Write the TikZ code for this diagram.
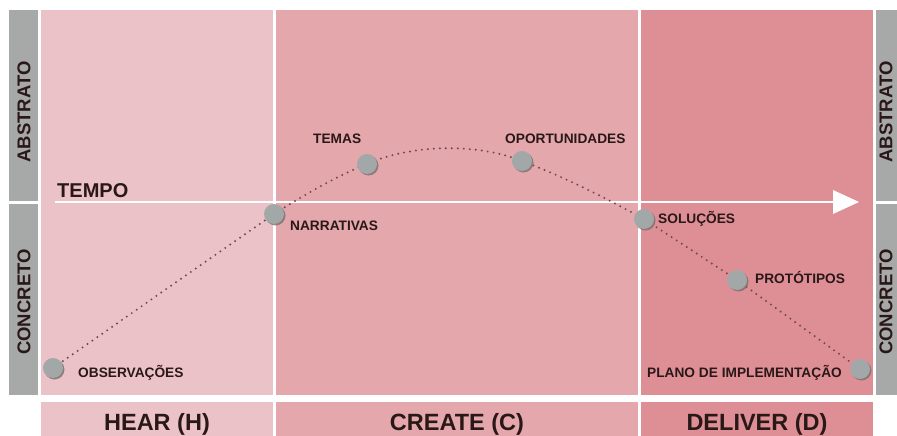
\documentclass[tikz,border=0pt]{standalone}
\usepackage{fontspec}
\setmainfont{Liberation Sans}
\usetikzlibrary{shadows}
\definecolor{hearc}{HTML}{EBC2C7}
\definecolor{createc}{HTML}{E3A7AC}
\definecolor{deliverc}{HTML}{DE8F95}
\definecolor{barc}{HTML}{A7A9A9}
\definecolor{txtc}{HTML}{2A1818}
\definecolor{dotc}{HTML}{6E4A4E}
\definecolor{blobc}{HTML}{A2A7A7}
\definecolor{blobsh}{HTML}{7A7070}
\begin{document}
\begin{tikzpicture}[x=1pt,y=-1pt,
  sidelabel/.style={rotate=90, font=\bfseries\fontsize{18.5}{19}\selectfont, text=txtc, inner sep=0},
  phase/.style={anchor=base, font=\bfseries\fontsize{23.5}{24}\selectfont, text=txtc, inner sep=0},
  lbl/.style={anchor=base west, font=\bfseries\fontsize{13.7}{14}\selectfont, text=txtc, inner sep=0},
  blob/.style={circle, fill=blobc, minimum size=20pt, inner sep=0,
    drop shadow={shadow xshift=1.5pt, shadow yshift=-1.5pt, fill=blobsh, opacity=0.8}},
  dotline/.style={draw=dotc, line width=2.2pt, dash pattern=on 0pt off 6pt, line cap=round}]
\useasboundingbox (0,0) rectangle (897,436);
\fill[white] (0,0) rectangle (897,436);
% side bars
\fill[barc] (9,10) rectangle (38,201);
\fill[barc] (9,204) rectangle (38,395);
\fill[barc] (876,10) rectangle (897,201);
\fill[barc] (876,204) rectangle (897,395);
% panels
\fill[hearc] (41,10) rectangle (273,395);
\fill[createc] (276,10) rectangle (638,395);
\fill[deliverc] (641,10) rectangle (873,395);
% bottom row
\fill[hearc] (41,402) rectangle (273,436);
\fill[createc] (276,402) rectangle (638,436);
\fill[deliverc] (641,402) rectangle (873,436);
% side labels
\node[sidelabel] (abl) at (24,112) {ABSTRATO};
\node[sidelabel] (col) at (24,302) {CONCRETO};
\node[sidelabel] (abr) at (886,112) {ABSTRATO};
\node[sidelabel] (cor) at (886,302) {CONCRETO};
% time axis
\coordinate (tstart) at (55,202);
\coordinate (tend) at (834,202);
\draw[white, line width=2pt] (tstart) -- (tend);
\fill[white] (833,190) -- (859,202) -- (833,214) -- cycle;
\node[anchor=base west, font=\bfseries\fontsize{20}{20}\selectfont, text=txtc, inner sep=0] (tempo) at (57,197) {TEMPO};
% bottom phase labels
\node[phase] (hear) at (157,430) {HEAR (H)};
\node[phase] (create) at (457,430) {CREATE (C)};
\node[phase] (deliver) at (757,430) {DELIVER (D)};
% points
\coordinate (obsp) at (53,368);
\coordinate (narp) at (274,214);
\coordinate (temp) at (367,164);
\coordinate (opop) at (522,161);
\coordinate (solp) at (644,219);
\coordinate (prop) at (737,280);
\coordinate (plap) at (860,369);
\draw[dotline] (obsp) -- (narp) .. controls +(35,-22) and +(-30,12) .. (temp)
  .. controls +(45,-20) and +(-45,-18) .. (opop)
  .. controls +(40,15) and +(-40,-22) .. (solp) -- (prop) -- (plap);
\node[blob] (obs) at (obsp) {};
\node[blob] (nar) at (narp) {};
\node[blob] (tem) at (temp) {};
\node[blob] (opo) at (opop) {};
\node[blob] (sol) at (solp) {};
\node[blob] (pro) at (prop) {};
\node[blob] (pla) at (plap) {};
% labels
\node[lbl] (obsl) at (78,377) {OBSERVAÇÕES};
\node[lbl] (narl) at (290,230) {NARRATIVAS};
\node[lbl] (teml) at (313,143) {TEMAS};
\node[lbl] (opol) at (505,143) {OPORTUNIDADES};
\node[lbl] (soll) at (658,223) {SOLUÇÕES};
\node[lbl] (prol) at (755,283) {PROTÓTIPOS};
\node[lbl] (plal) at (647,377) {PLANO DE IMPLEMENTAÇÃO};
\end{tikzpicture}
\end{document}
